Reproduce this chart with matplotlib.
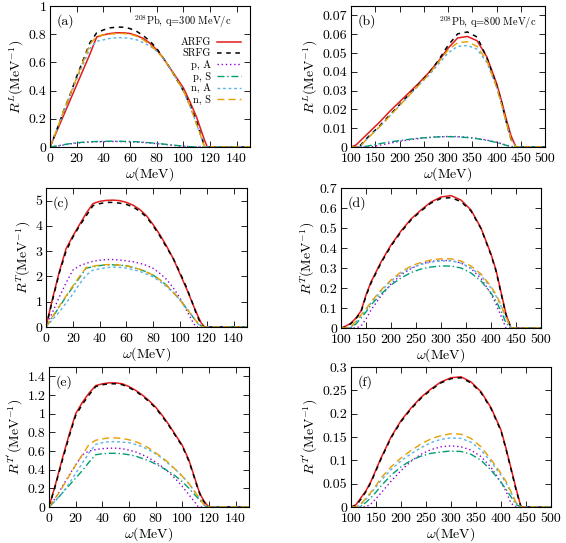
import matplotlib
matplotlib.use("Agg")
import matplotlib.pyplot as plt
from matplotlib.ticker import FormatStrFormatter, MultipleLocator

plt.rcParams['font.family'] = 'serif'
plt.rcParams['font.serif'] = ['cmr10']
plt.rcParams['mathtext.fontset'] = 'cm'
plt.rcParams['axes.formatter.use_mathtext'] = True

# omega grids (MeV)
w300 = [0, 5, 10, 15, 20, 25, 30, 35, 40, 45, 50, 55, 60, 65, 70, 75, 80, 85, 90, 95,
        100, 105, 110, 112, 114, 116, 118, 120, 150]
w800 = [100, 110, 120, 130, 140, 150, 160, 180, 200, 220, 240, 260, 280, 300, 320, 340,
        360, 380, 400, 410, 420, 430, 440, 450, 500]

# (a) R^L, q=300
a_arfg = [0, .11, .22, .33, .44, .55, .66, .78, .795, .805, .81, .81, .805, .79, .77, .735, .69, .63, .56, .49,
          .42, .32, .21, .155, .10, .045, 0, 0, 0]
a_srfg = [0, .12, .25, .37, .50, .62, .74, .81, .83, .845, .85, .85, .84, .82, .79, .75, .70, .63, .56, .48,
          .40, .30, .18, .12, .06, 0, 0, 0, 0]
a_pA = [0, .006, .014, .022, .028, .032, .035, .037, .038, .039, .039, .038, .037, .035, .032, .028, .024, .019, .014, .009,
        .005, .002, 0, 0, 0, 0, 0, 0, 0]
a_pS = [0, .007, .016, .024, .03, .034, .037, .039, .04, .041, .041, .04, .039, .037, .034, .03, .026, .021, .016, .011,
        .006, .002, 0, 0, 0, 0, 0, 0, 0]
a_nA = [0, .12, .24, .36, .48, .59, .70, .75, .76, .77, .775, .775, .77, .76, .74, .715, .68, .63, .56, .48,
        .40, .29, .16, .11, .05, 0, 0, 0, 0]
a_nS = [0, .12, .25, .37, .49, .61, .73, .785, .795, .80, .805, .805, .80, .785, .76, .725, .68, .63, .56, .48,
        .40, .29, .16, .11, .05, 0, 0, 0, 0]

# (b) R^L, q=800
b_arfg = [0, .001, .0035, .006, .0085, .011, .0135, .019, .024, .029, .034, .0395, .0455, .0525, .058, .0588,
          .0565, .048, .034, .025, .015, .006, 0, 0, 0]
b_srfg = [0, 0, .001, .004, .0065, .009, .0115, .017, .0225, .028, .0335, .039, .046, .054, .0602, .0612,
          .0585, .0475, .033, .024, .0135, .004, 0, 0, 0]
b_pA = [0, 0, 0, 0, 0, .0005, .001, .002, .003, .0038, .0045, .005, .0054, .0056, .0055, .0052,
        .0046, .0037, .0025, .0018, .001, .0003, 0, 0, 0]
b_pS = [0, 0, 0, .0003, .0008, .0013, .0018, .0027, .0034, .0041, .0047, .0051, .0054, .0055, .0054, .005,
        .0044, .0035, .0024, .0017, .0009, .0002, 0, 0, 0]
b_nA = [0, 0, .0005, .0035, .006, .0085, .011, .0165, .022, .0275, .033, .038, .044, .050, .0535, .054,
        .052, .045, .032, .023, .013, .004, 0, 0, 0]
b_nS = [0, 0, .0005, .0035, .006, .0085, .011, .0165, .022, .0275, .033, .0385, .045, .0515, .0555, .056,
        .0535, .046, .032, .023, .013, .004, 0, 0, 0]

# (c) R^T, q=300
c_arfg = [0, 1.15, 2.2, 3.1, 3.6, 4.05, 4.5, 4.88, 4.97, 5.01, 5.02, 5.0, 4.93, 4.82, 4.65, 4.4, 4.05, 3.65, 3.2, 2.7,
          2.1, 1.5, .85, .6, .36, .15, .02, 0, 0]
c_srfg = [0, 1.1, 2.15, 3.0, 3.55, 4.0, 4.4, 4.8, 4.88, 4.93, 4.93, 4.9, 4.85, 4.75, 4.58, 4.35, 4.0, 3.6, 3.15, 2.7,
          2.15, 1.55, .85, .55, .3, .08, 0, 0, 0]
c_pA = [0, .6, 1.2, 1.75, 2.25, 2.42, 2.52, 2.6, 2.64, 2.67, 2.67, 2.65, 2.62, 2.58, 2.52, 2.44, 2.32, 2.12, 1.88, 1.55,
        1.15, .65, .15, 0, 0, 0, 0, 0, 0]
c_pS = [0, .4, .8, 1.2, 1.58, 1.95, 2.33, 2.38, 2.43, 2.46, 2.46, 2.45, 2.42, 2.36, 2.28, 2.18, 2.05, 1.87, 1.65, 1.37,
        1.07, .72, .37, .24, .12, .04, 0, 0, 0]
c_nA = [0, .3, .6, .95, 1.3, 1.7, 2.05, 2.25, 2.3, 2.35, 2.37, 2.36, 2.33, 2.27, 2.2, 2.1, 1.98, 1.8, 1.6, 1.35,
        1.08, .75, .38, .22, .08, 0, 0, 0, 0]
c_nS = [0, .42, .83, 1.23, 1.62, 2.0, 2.35, 2.4, 2.45, 2.47, 2.47, 2.45, 2.42, 2.36, 2.28, 2.18, 2.05, 1.87, 1.65, 1.37,
        1.07, .72, .37, .24, .12, .04, 0, 0, 0]

# (d) R^T, q=800
d_arfg = [0, .01, .025, .05, .085, .165, .23, .33, .415, .485, .545, .59, .63, .655, .662, .64,
          .59, .50, .37, .29, .18, .07, 0, 0, 0]
d_srfg = [0, .005, .022, .047, .08, .16, .225, .325, .41, .48, .54, .585, .625, .648, .652, .632,
          .585, .497, .365, .285, .175, .065, 0, 0, 0]
d_pA = [0, 0, 0, 0, .01, .045, .09, .16, .22, .265, .297, .32, .333, .338, .337, .325,
        .297, .248, .17, .12, .06, 0, 0, 0, 0]
d_pS = [0, 0, .003, .02, .05, .08, .115, .17, .215, .25, .277, .295, .305, .31, .31, .3,
        .275, .235, .175, .135, .085, .025, 0, 0, 0]
d_nA = [0, 0, .005, .03, .06, .09, .125, .185, .235, .272, .3, .318, .33, .336, .336, .325,
        .3, .262, .2, .16, .11, .05, 0, 0, 0]
d_nS = [0, 0, .005, .035, .065, .095, .13, .19, .24, .28, .31, .328, .34, .346, .346, .335,
        .31, .27, .208, .167, .115, .055, 0, 0, 0]

# (e) R^T', q=300
e_arfg = [0, .25, .52, .77, 1.0, 1.12, 1.22, 1.30, 1.32, 1.33, 1.33, 1.32, 1.29, 1.25, 1.20, 1.14, 1.07, .98, .88, .77,
          .66, .50, .28, .19, .12, .07, .03, 0, 0]
e_srfg = [0, .24, .5, .75, .98, 1.1, 1.2, 1.29, 1.31, 1.32, 1.32, 1.31, 1.28, 1.24, 1.19, 1.13, 1.06, .97, .87, .76,
          .65, .49, .27, .18, .11, .06, .02, 0, 0]
e_pA = [0, .1, .22, .34, .45, .56, .6, .615, .625, .63, .63, .625, .61, .59, .56, .525, .48, .43, .37, .30,
        .22, .13, .04, 0, 0, 0, 0, 0, 0]
e_pS = [0, .07, .15, .23, .31, .39, .48, .56, .57, .575, .575, .57, .56, .545, .52, .495, .46, .42, .38, .33,
        .27, .2, .12, .09, .06, .03, 0, 0, 0]
e_nA = [0, .07, .15, .25, .36, .47, .58, .67, .69, .70, .70, .695, .69, .67, .645, .61, .57, .52, .46, .40,
        .33, .25, .15, .11, .07, .03, 0, 0, 0]
e_nS = [0, .1, .21, .33, .45, .56, .67, .715, .73, .74, .74, .735, .72, .70, .67, .63, .58, .53, .47, .40,
        .33, .25, .15, .11, .07, .03, 0, 0, 0]

# (f) R^T', q=800
f_arfg = [0, .005, .02, .035, .055, .08, .105, .15, .185, .212, .235, .253, .268, .277, .279, .268,
          .247, .213, .165, .126, .083, .04, 0, 0, 0]
f_srfg = [0, .003, .017, .033, .053, .078, .103, .148, .183, .21, .233, .251, .266, .275, .277, .266,
          .245, .211, .163, .124, .081, .037, 0, 0, 0]
f_pA = [0, 0, 0, 0, .007, .018, .03, .055, .078, .098, .113, .123, .129, .131, .129, .122,
        .108, .085, .053, .034, .008, 0, 0, 0, 0]
f_pS = [0, 0, .002, .01, .02, .032, .045, .068, .086, .1, .109, .115, .118, .12, .119, .113,
        .1, .079, .053, .038, .022, .005, 0, 0, 0]
f_nA = [0, 0, .006, .017, .03, .043, .057, .08, .099, .114, .127, .138, .145, .148, .147, .139,
        .122, .097, .068, .052, .031, .009, 0, 0, 0]
f_nS = [0, 0, .007, .019, .032, .046, .062, .086, .105, .121, .135, .146, .153, .157, .156, .147,
        .129, .102, .072, .055, .033, .01, 0, 0, 0]

labels = ["ARFG", "SRFG", "p, A", "p, S", "n, A", "n, S"]
styles = [
    dict(color='#e41a1c', ls='-', lw=1.1),
    dict(color='black', ls=(0, (3, 3)), lw=1.1),
    dict(color='#9400d3', ls=(0, (1, 2)), lw=1.0),
    dict(color='#009e73', ls=(0, (5, 2, 1, 2)), lw=1.0),
    dict(color='#56b4e9', ls=(0, (2, 2)), lw=1.0),
    dict(color='#e69f00', ls=(0, (5, 3)), lw=1.0),
]

panels = [
    ('(a)', w300, [a_arfg, a_srfg, a_pA, a_pS, a_nA, a_nS], (50, 250, 6, 147), 1.0, 0.2, r'$R^L(\mathrm{MeV}^{-1})$'),
    ('(b)', w800, [b_arfg, b_srfg, b_pA, b_pS, b_nA, b_nS], (351, 545, 6, 147), 0.075, 0.01, r'$R^L(\mathrm{MeV}^{-1})$'),
    ('(c)', w300, [c_arfg, c_srfg, c_pA, c_pS, c_nA, c_nS], (46, 247, 188, 327), 5.5, 1, r'$R^T(\mathrm{MeV}^{-1})$'),
    ('(d)', w800, [d_arfg, d_srfg, d_pA, d_pS, d_nA, d_nS], (341, 541, 188, 328), 0.7, 0.1, r'$R^T(\mathrm{MeV}^{-1})$'),
    ('(e)', w300, [e_arfg, e_srfg, e_pA, e_pS, e_nA, e_nS], (49, 249, 367, 507), 1.5, 0.2, r"$R^{T'}(\mathrm{MeV}^{-1})$"),
    ('(f)', w800, [f_arfg, f_srfg, f_pA, f_pS, f_nA, f_nS], (351, 551, 367, 507), 0.3, 0.05, r"$R^{T'}(\mathrm{MeV}^{-1})$"),
]

W, H = 566, 543
fig = plt.figure(figsize=(W / 100, H / 100), dpi=100)

for tag, w, curves, (l, r, t, b), ytop, ystep, ylab in panels:
    ax = fig.add_axes([l / W, 1 - b / H, (r - l) / W, (b - t) / H])
    lines = []
    for y, st, lab in zip(curves, styles, labels):
        ln, = ax.plot(w, y, label=lab, **st)
        lines.append(ln)
    if w is w300:
        ax.set_xlim(0, 150)
        ax.xaxis.set_major_locator(MultipleLocator(20))
    else:
        ax.set_xlim(100, 500)
        ax.xaxis.set_major_locator(MultipleLocator(50))
    ax.set_ylim(0, ytop)
    ax.yaxis.set_major_locator(MultipleLocator(ystep))
    ax.yaxis.set_major_formatter(FormatStrFormatter('%g'))
    ax.xaxis.set_major_formatter(FormatStrFormatter('%g'))
    ax.tick_params(direction='in', top=True, right=True, length=4, width=0.6, labelsize=10)
    ax.tick_params(axis='x', pad=4.5)
    ax.tick_params(axis='y', pad=2.5)
    for sp in ax.spines.values():
        sp.set_linewidth(0.8)
    ax.set_xlabel(r'$\omega$(MeV)', fontsize=10, labelpad=0)
    ax.set_ylabel(ylab, fontsize=10, labelpad=2)
    ax.text(0.035, 0.89, tag, transform=ax.transAxes, fontsize=10, va='center', ha='left')

    if tag == '(a)':
        ax.text(0.91, 0.89, r'$^{208}$Pb, q=300 MeV/c', transform=ax.transAxes, fontsize=7.5,
                ha='right', va='center')
        ax.legend(lines, labels, loc='upper right', bbox_to_anchor=(0.955, 0.775), markerfirst=False,
                  frameon=False, fontsize=7.5, handlelength=2.3, handletextpad=0.6,
                  labelspacing=0.15, borderpad=0, borderaxespad=0)
    if tag == '(b)':
        ax.text(0.955, 0.88, r'$^{208}$Pb, q=800 MeV/c', transform=ax.transAxes, fontsize=7.5,
                ha='right', va='center')

fig.savefig('out.png', dpi=100)
